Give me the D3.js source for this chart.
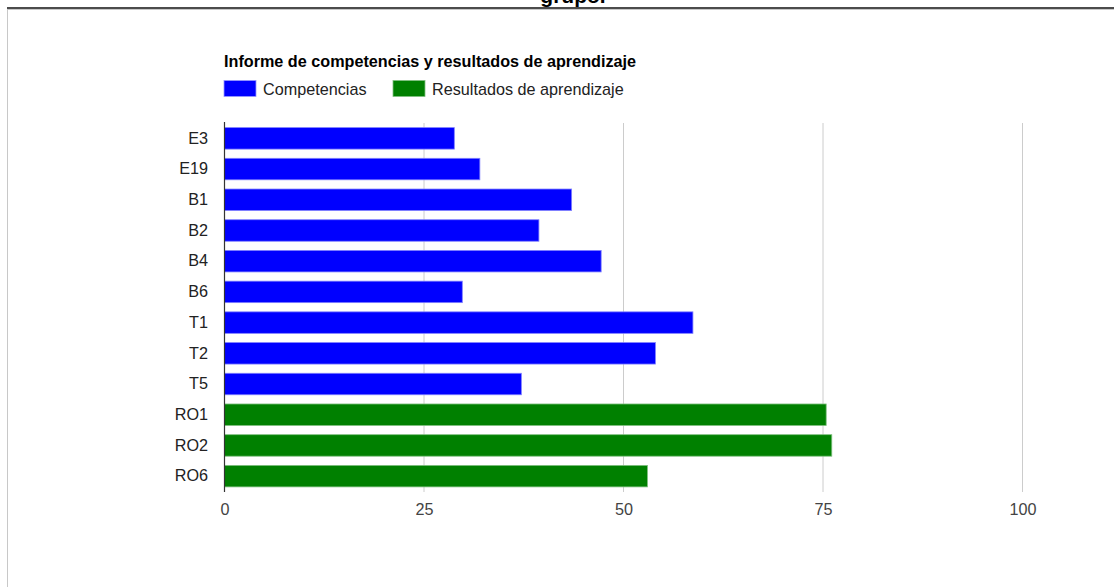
<!DOCTYPE html>
<html>
<head>
<meta charset="utf-8">
<script src="https://cdn.jsdelivr.net/npm/d3@7"></script>
<style>
  html, body { margin: 0; padding: 0; background: #fff; }
  svg { display: block; font-family: Arial, "Liberation Sans", sans-serif; }
</style>
</head>
<body>
<svg id="chart" width="1114" height="587"></svg>
<script>
const categories = ["E3", "E19", "B1", "B2", "B4", "B6", "T1", "T2", "T5", "RO1", "RO2", "RO6"];
const values = [28.8, 32.0, 43.5, 39.4, 47.2, 29.8, 58.7, 54.0, 37.2, 75.4, 76.1, 53.0];
const groups = ["Competencias", "Competencias", "Competencias", "Competencias", "Competencias", "Competencias",
  "Competencias", "Competencias", "Competencias", "Resultados de aprendizaje", "Resultados de aprendizaje", "Resultados de aprendizaje"];
const seriesNames = ["Competencias", "Resultados de aprendizaje"];
const seriesColors = ["#0000ff", "#008000"];
const xTicks = [0, 25, 50, 75, 100];
const chartTitle = "Informe de competencias y resultados de aprendizaje";
const pageTitle = "grupo.";

const svg = d3.select("#chart");
const FS = 16.2;

// page header remnants
svg.append("text").attr("x", 573).attr("y", 3).attr("text-anchor", "middle")
  .attr("font-size", 21).attr("font-weight", "bold").attr("fill", "#000").text(pageTitle);
svg.append("line").attr("x1", 7).attr("x2", 1114).attr("y1", 8).attr("y2", 8)
  .attr("stroke", "#111").attr("stroke-width", 1.6);
svg.append("line").attr("x1", 7).attr("x2", 1114).attr("y1", 9.5).attr("y2", 9.5)
  .attr("stroke", "#c8c8c8").attr("stroke-width", 1);
svg.append("line").attr("x1", 7.5).attr("x2", 7.5).attr("y1", 9).attr("y2", 587)
  .attr("stroke", "#c8c8c8").attr("stroke-width", 1);

const color = d3.scaleOrdinal().domain(seriesNames).range(seriesColors);
const x = d3.scaleLinear().domain([0, 100]).range([224.5, 1022.5]);
const y = d3.scaleBand().domain(categories).range([123, 491.5]).paddingInner(0.3).paddingOuter(0.15);

// title
svg.append("text").attr("x", 224).attr("y", 67).attr("font-size", FS).attr("font-weight", "bold")
  .attr("fill", "#000").text(chartTitle);

// legend
const legX = [224, 393];
seriesNames.forEach((s, i) => {
  svg.append("rect").attr("x", legX[i]).attr("y", 80.5).attr("width", 32).attr("height", 16)
    .attr("fill", color(s)).attr("stroke", i === 0 ? "#9999ff" : "#80c080").attr("stroke-width", 0.8);
  svg.append("text").attr("x", legX[i] + 39).attr("y", 94.5).attr("font-size", FS)
    .attr("fill", "#222").text(s);
});

// gridlines
svg.append("g").selectAll("line").data(xTicks.filter(d => d !== 0)).join("line")
  .attr("x1", d => x(d)).attr("x2", d => x(d)).attr("y1", 123).attr("y2", 492)
  .attr("stroke", "#cccccc").attr("stroke-width", 1);

// bars
svg.append("g").selectAll("rect").data(categories).join("rect")
  .attr("x", x(0))
  .attr("y", d => y(d))
  .attr("width", (d, i) => x(values[i]) - x(0))
  .attr("height", y.bandwidth())
  .attr("fill", (d, i) => color(groups[i]))
  .attr("stroke", (d, i) => groups[i] === seriesNames[0] ? "#8080ff" : "#7fbf7f")
  .attr("stroke-width", 0.8);

// zero axis line
svg.append("line").attr("x1", x(0)).attr("x2", x(0)).attr("y1", 122).attr("y2", 492)
  .attr("stroke", "#333").attr("stroke-width", 1.2);

// y axis labels
const yAxis = d3.axisLeft(y).tickSize(0).tickPadding(0);
const gy = svg.append("g").attr("transform", "translate(208,0)").call(yAxis);
gy.select(".domain").remove();
gy.selectAll("text").attr("font-size", FS).attr("fill", "#222").attr("font-family", "Arial, 'Liberation Sans', sans-serif");

// x axis labels
const xAxis = d3.axisBottom(x).tickValues(xTicks).tickSize(0).tickPadding(0);
const gx = svg.append("g").attr("transform", "translate(0,503)").call(xAxis);
gx.select(".domain").remove();
gx.selectAll("text").attr("font-size", FS).attr("fill", "#444").attr("font-family", "Arial, 'Liberation Sans', sans-serif");
</script>
</body>
</html>
